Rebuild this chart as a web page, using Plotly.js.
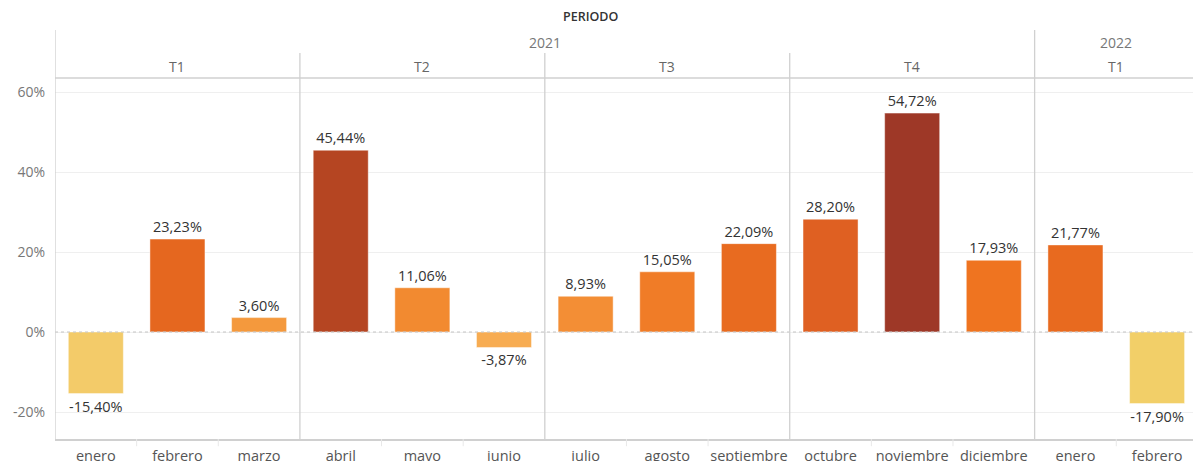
<!DOCTYPE html>
<html><head><meta charset="utf-8">
<script src="https://cdn.plot.ly/plotly-3.0.1.min.js"></script>
<style>html,body{margin:0;padding:0;background:#fff;}#chart{width:1193px;height:461px;}</style>
</head><body><div id="chart"></div>
<script>
const months = ["enero","febrero","marzo","abril","mayo","junio","julio","agosto","septiembre","octubre","noviembre","diciembre","enero","febrero"];
const quarters = ["T1","T1","T1","T2","T2","T2","T3","T3","T3","T4","T4","T4","T1","T1"];
const years = ["2021","2021","2021","2021","2021","2021","2021","2021","2021","2021","2021","2021","2022","2022"];
const values = [-15.40, 23.23, 3.60, 45.44, 11.06, -3.87, 8.93, 15.05, 22.09, 28.20, 54.72, 17.93, 21.77, -17.90];
const colors = ["#F3CB69","#E5671F","#F4993D","#B54522","#F28A30","#F7AC52","#F38E35","#F07C27","#E86B20","#DF6022","#9E3827","#EF7420","#E86A1F","#F2CF68"];
const yTicks = [-20, 0, 20, 40, 60];

const idx = months.map((m,i)=>i);
const labels = values.map(v => v.toFixed(2).replace('.', ',') + '%');
const FONT = 'Open Sans, sans-serif';

const trace = {
  type: 'bar', x: idx, y: values,
  marker: {color: colors, line: {color: 'rgba(255,255,255,0.45)', width: 1}},
  width: 0.674,
  text: labels, textposition: 'outside', cliponaxis: false,
  textfont: {family: FONT, size: 14.5, color: '#333'},
  hoverinfo: 'none'
};

function groups(arr) {
  const g = []; let start = 0;
  for (let i = 1; i <= arr.length; i++) {
    if (i === arr.length || arr[i] !== arr[start] || years[i] !== years[start]) {
      g.push({label: arr[start], s: start, e: i - 1}); start = i;
    }
  }
  return g;
}
const qg = groups(quarters), yg = groups(years);

const lineC = '#d0d0d0';
const shapes = [];
const annotations = [];
shapes.push({type:'line', xref:'paper', yref:'paper', x0:0, x1:1, y0:1, y1:1, line:{color:lineC, width:1.5}});
shapes.push({type:'line', xref:'paper', yref:'y', x0:0, x1:1, y0:0, y1:0, line:{color:'#c4c4c4', width:1, dash:'dot'}});
shapes.push({type:'line', xref:'x', yref:'paper', x0:-0.5, x1:-0.5, y0:0, y1:1.133, line:{color:lineC, width:1.3}});
yg.forEach((g,k)=>{ if(k>0) shapes.push({type:'line', xref:'x', yref:'paper', x0:g.s-0.5, x1:g.s-0.5, y0:0, y1:1.133, line:{color:lineC, width:1.3}}); });
qg.forEach((g,k)=>{ if(k>0 && years[g.s]===years[g.s-1]) shapes.push({type:'line', xref:'x', yref:'paper', x0:g.s-0.5, x1:g.s-0.5, y0:0, y1:1.069, line:{color:lineC, width:1.3}}); });
idx.forEach(i=>{ if(i>0 && quarters[i]===quarters[i-1]) shapes.push({type:'line', xref:'x', yref:'paper', x0:i-0.5, x1:i-0.5, y0:0, y1:-0.02, line:{color:'#e8e8e8', width:1}}); });

annotations.push({text:'PERIODO', xref:'paper', yref:'paper', x:0.471, y:1.169, yanchor:'middle', showarrow:false, font:{family:FONT, size:12.5, color:'#333', weight:600}});
yg.forEach(g=>annotations.push({text:g.label, xref:'x', yref:'paper', x:(g.s+g.e)/2, y:1.097, yanchor:'middle', showarrow:false, font:{family:FONT, size:14, color:'#777'}}));
qg.forEach(g=>annotations.push({text:g.label, xref:'x', yref:'paper', x:(g.s+g.e)/2, y:1.033, yanchor:'middle', showarrow:false, font:{family:FONT, size:14, color:'#666'}}));

const layout = {
  width: 1193, height: 461,
  margin: {l: 55, r: 0, t: 78, b: 22},
  paper_bgcolor: '#fff', plot_bgcolor: '#fff',
  showlegend: false,
  xaxis: {range: [-0.5, 13.44], tickvals: idx, ticktext: months, showgrid: false, zeroline: false,
    showline: true, linecolor: lineC, linewidth: 1.5, ticks: '', ticklabelstandoff: 3,
    tickfont: {family: FONT, size: 14.5, color: '#555'}, fixedrange: true},
  yaxis: {range: [-26.75, 63.5], tickvals: yTicks, ticktext: yTicks.map(t=>t+'%'), showgrid: true,
    gridcolor: '#efefef', zeroline: false, showline: false, ticks: '', ticklabelstandoff: 9,
    tickfont: {family: FONT, size: 14, color: '#777'}, fixedrange: true},
  shapes: shapes, annotations: annotations
};
Plotly.newPlot('chart', [trace], layout, {displayModeBar: false, staticPlot: true});
</script></body></html>
